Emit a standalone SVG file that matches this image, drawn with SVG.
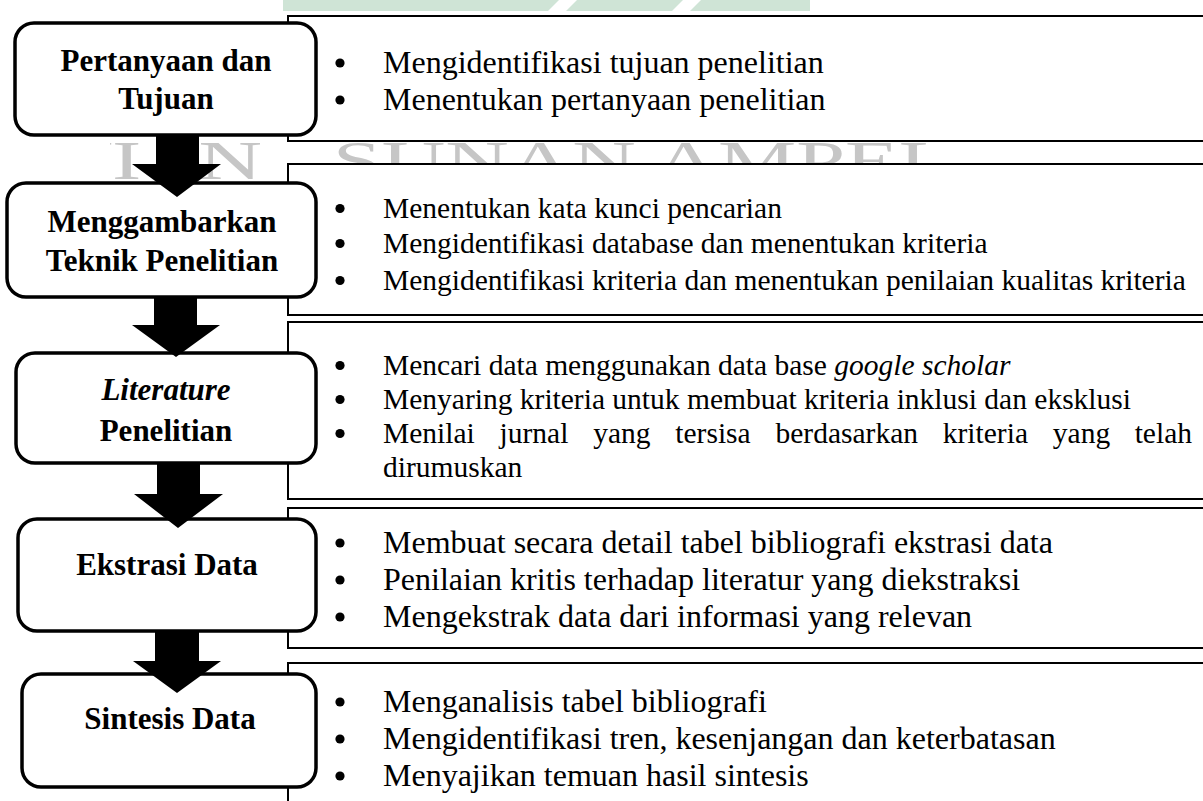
<svg xmlns="http://www.w3.org/2000/svg" width="1203" height="801" viewBox="0 0 1203 801">
  <defs>
    <style>
      .rbox { fill: #ffffff; stroke: #000000; stroke-width: 2; }
      .lbox { fill: #ffffff; stroke: #000000; stroke-width: 3.5; }
      .lbl { font-family: "Liberation Serif", "Times New Roman", serif; font-weight: bold; font-size: 31px; fill: #000000; text-anchor: middle; }
      .t1 { font-family: "Liberation Serif", "Times New Roman", serif; font-size: 32px; fill: #000000; }
      .t2 { font-family: "Liberation Serif", "Times New Roman", serif; font-size: 29.5px; fill: #000000; }
      .arrow { fill: #000000; }
      .wm { font-family: "Liberation Serif", "Times New Roman", serif; font-size: 55px; fill: #c6c6c6; }
    </style>
    <circle id="dot" cx="0" cy="0" r="4.6" fill="#000000"/>
    <clipPath id="wmclip">
      <rect x="110" y="0" width="1093" height="801"/>
    </clipPath>
  </defs>
  <rect x="0" y="0" width="1203" height="801" fill="#ffffff"/>

  <g id="watermark">
    <polygon points="283,0 810,0 810,11 283,11" fill="#cfe4d6"/>
    <polygon points="548,11 566,11 577,0 559,0" fill="#ffffff"/>
    <polygon points="672,11 690,11 701,0 683,0" fill="#ffffff"/>
    <g clip-path="url(#wmclip)">
      <g transform="matrix(1.6 0 0 1 0 0)">
        <text class="wm" x="31 70 124" y="179">UIN</text>
        <text class="wm" x="208" y="179">SUNAN</text>
        <text class="wm" x="409" y="179">AMPEL</text>
      </g>
    </g>
  </g>

  <g id="detail1">
    <rect class="rbox" x="288" y="16" width="930" height="125"/>
    <use href="#dot" x="340" y="63"/>
    <text class="t1" x="383" y="73">Mengidentifikasi tujuan penelitian</text>
    <use href="#dot" x="340" y="100"/>
    <text class="t1" x="383" y="110">Menentukan pertanyaan penelitian</text>
  </g>
  <g id="detail2">
    <rect class="rbox" x="288" y="164" width="930" height="151"/>
    <use href="#dot" x="340" y="208.5"/>
    <text class="t2" x="383" y="218">Menentukan kata kunci pencarian</text>
    <use href="#dot" x="340" y="243.5"/>
    <text class="t2" x="383" y="253">Mengidentifikasi database dan menentukan kriteria</text>
    <use href="#dot" x="340" y="280.5"/>
    <text class="t2" x="383" y="290">Mengidentifikasi kriteria dan menentukan penilaian kualitas kriteria</text>
  </g>
  <g id="detail3">
    <rect class="rbox" x="288" y="322" width="930" height="177"/>
    <use href="#dot" x="340" y="365.5"/>
    <text class="t2" x="383" y="375">Mencari data menggunakan data base <tspan font-style="italic">google scholar</tspan></text>
    <use href="#dot" x="340" y="399.5"/>
    <text class="t2" x="383" y="409">Menyaring kriteria untuk membuat kriteria inklusi dan eksklusi</text>
    <use href="#dot" x="340" y="433.5"/>
    <text class="t2" y="443"><tspan x="383">Menilai</tspan><tspan x="499.6">jurnal</tspan><tspan x="593.2">yang</tspan><tspan x="675.3">tersisa</tspan><tspan x="775.5">berdasarkan</tspan><tspan x="942.8">kriteria</tspan><tspan x="1052.8">yang</tspan><tspan x="1192" text-anchor="end">telah</tspan></text>
    <text class="t2" x="383" y="477">dirumuskan</text>
  </g>
  <g id="detail4">
    <rect class="rbox" x="288" y="508" width="930" height="140"/>
    <use href="#dot" x="340" y="543"/>
    <text class="t1" x="383" y="553">Membuat secara detail tabel bibliografi ekstrasi data</text>
    <use href="#dot" x="340" y="580"/>
    <text class="t1" x="383" y="590">Penilaian kritis terhadap literatur yang diekstraksi</text>
    <use href="#dot" x="340" y="617"/>
    <text class="t1" x="383" y="627">Mengekstrak data dari informasi yang relevan</text>
  </g>
  <g id="detail5">
    <rect class="rbox" x="288" y="663" width="930" height="160"/>
    <use href="#dot" x="340" y="702"/>
    <text class="t1" x="383" y="712">Menganalisis tabel bibliografi</text>
    <use href="#dot" x="340" y="739"/>
    <text class="t1" x="383" y="749">Mengidentifikasi tren, kesenjangan dan keterbatasan</text>
    <use href="#dot" x="340" y="776"/>
    <text class="t1" x="383" y="786">Menyajikan temuan hasil sintesis</text>
  </g>

  <g id="step1">
    <rect class="lbox" x="15" y="23" width="301" height="112" rx="19"/>
    <text class="lbl" x="166" y="71">Pertanyaan dan</text>
    <text class="lbl" x="166" y="109">Tujuan</text>
  </g>
  <g id="step2">
    <rect class="lbox" x="7" y="183" width="309" height="114" rx="19"/>
    <text class="lbl" x="162" y="232">Menggambarkan</text>
    <text class="lbl" x="162" y="271">Teknik Penelitian</text>
  </g>
  <g id="step3">
    <rect class="lbox" x="16" y="353" width="300" height="110" rx="19"/>
    <text class="lbl" x="166" y="400" font-style="italic">Literature</text>
    <text class="lbl" x="166" y="441">Penelitian</text>
  </g>
  <g id="step4">
    <rect class="lbox" x="18" y="519" width="298" height="112" rx="19"/>
    <text class="lbl" x="167" y="575">Ekstrasi Data</text>
  </g>
  <g id="step5">
    <rect class="lbox" x="22" y="674" width="294" height="113" rx="19"/>
    <text class="lbl" x="170" y="729">Sintesis Data</text>
  </g>

  <g id="connectors">
    <polygon class="arrow" points="156,135 199,135 199,164 221,164 177,197 132,164 156,164"/>
    <polygon class="arrow" points="154,297 197,297 197,325 220,325 176,357 132,325 154,325"/>
    <polygon class="arrow" points="157,463 200,463 200,494 223,494 178,528 134,494 157,494"/>
    <polygon class="arrow" points="155,631 199,631 199,661 221,661 177,693 133,661 155,661"/>
  </g>
</svg>
